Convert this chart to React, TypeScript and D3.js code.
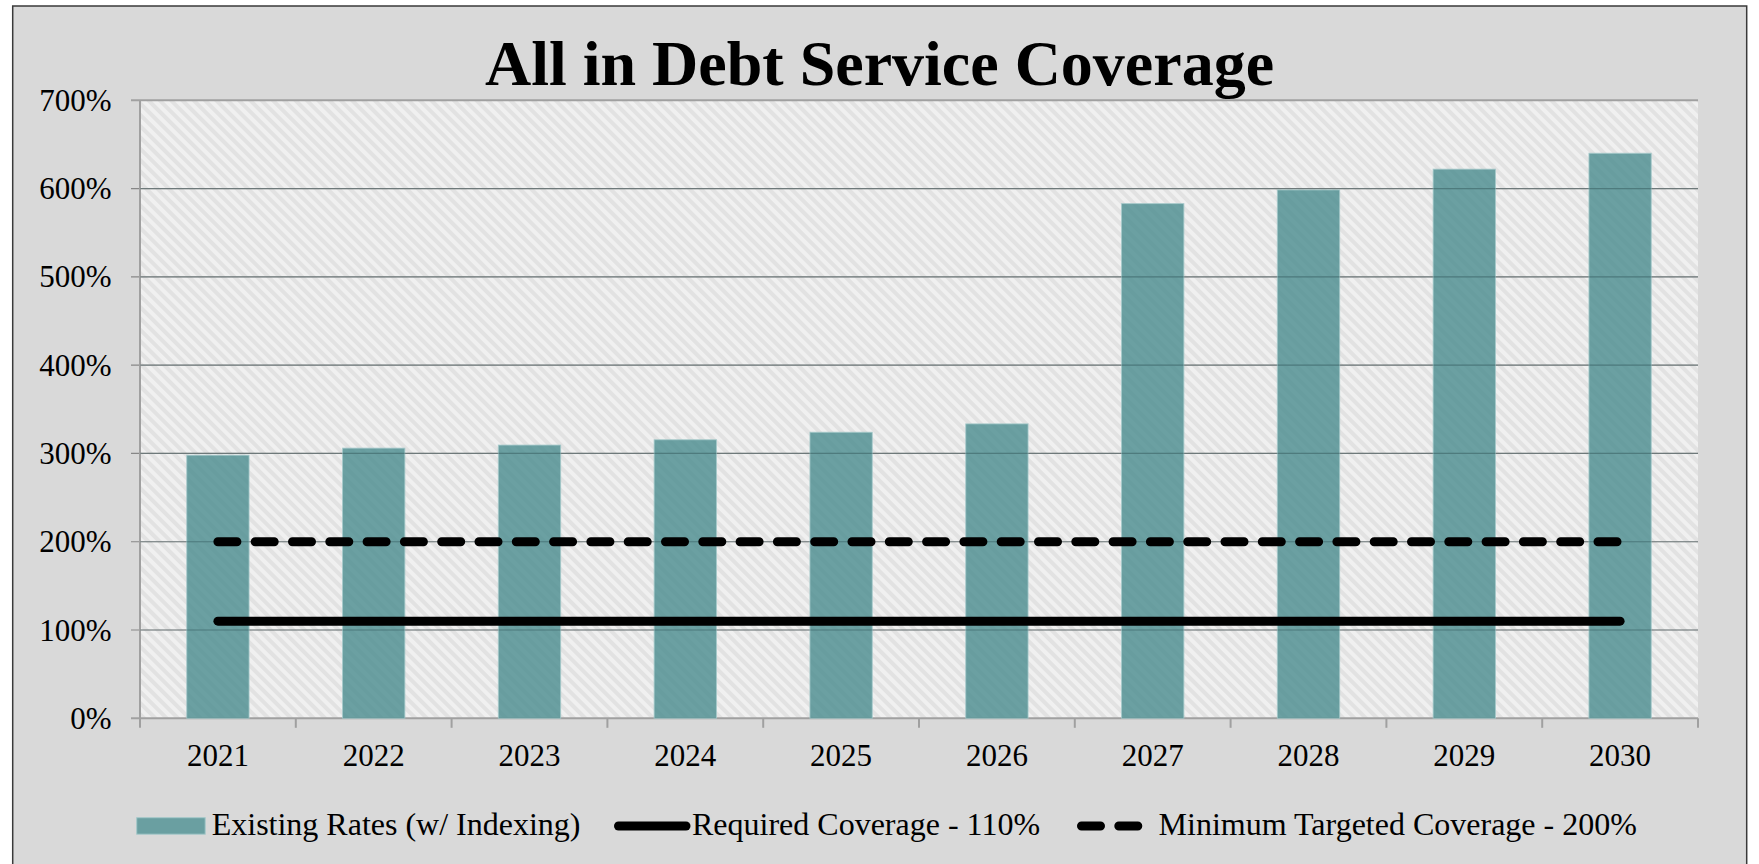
import React from "react";
import * as d3 from "d3";

const years = ["2021", "2022", "2023", "2024", "2025", "2026", "2027", "2028", "2029", "2030"];
const existingRates = [298, 306, 309.5, 315.5, 324, 333.5, 583, 598.5, 622, 640];
const requiredCoverage = [110, 110, 110, 110, 110, 110, 110, 110, 110, 110];
const targetedCoverage = [200, 200, 200, 200, 200, 200, 200, 200, 200, 200];
const yTicks = [0, 100, 200, 300, 400, 500, 600, 700];

const title = "All in Debt Service Coverage";
const legendLabels = [
  "Existing Rates (w/ Indexing)",
  "Required Coverage - 110%",
  "Minimum Targeted Coverage - 200%",
];

const W = 1759;
const H = 864;
const plot = { left: 140, right: 1698, top: 100.3, bottom: 718.3 };
const FONT = "'Liberation Serif', 'Times New Roman', serif";

export default function App() {
  const x = d3
    .scaleBand<string>()
    .domain(years)
    .range([plot.left, plot.right])
    .paddingInner(0.6)
    .paddingOuter(0.3);
  const xOuter = d3.scaleBand<string>().domain(years).range([plot.left, plot.right]);
  const y = d3.scaleLinear().domain([0, 700]).range([plot.bottom, plot.top]);
  const cx = (i: number) => (xOuter(years[i]) as number) + xOuter.bandwidth() / 2;

  const line = d3
    .line<number>()
    .x((_, i) => cx(i))
    .y((d) => y(d));

  const boundaries = d3.range(years.length + 1).map((i) => plot.left + i * xOuter.step());

  const dash = "19 18.3";
  const legendY = 826;

  return (
    <svg
      width={W}
      height={H}
      style={{ position: "absolute", left: 0, top: 0, background: "#ffffff" }}
      fontFamily={FONT}
    >
      <defs>
        <pattern
          id="hatch"
          patternUnits="userSpaceOnUse"
          width={8}
          height={8}
          patternTransform="rotate(-45)"
        >
          <rect width={8} height={8} fill="#f0f0f0" />
          <rect width={4} height={8} fill="#e2e2e2" />
        </pattern>
      </defs>

      {/* chart background & frame */}
      <rect x={12.7} y={6} width={1734} height={880} fill="#d9d9d9" stroke="#3a3a3a" strokeWidth={1.5} />

      {/* title */}
      <text x={879.5} y={85} textAnchor="middle" fontSize={64} fontWeight="bold" fill="#000">
        {title}
      </text>

      {/* plot area */}
      <rect
        x={plot.left}
        y={plot.top}
        width={plot.right - plot.left}
        height={plot.bottom - plot.top}
        fill="url(#hatch)"
      />

      {/* gridlines & y ticks */}
      {yTicks.map((t) => (
        <g key={t}>
          <line
            x1={131}
            x2={plot.right}
            y1={y(t)}
            y2={y(t)}
            stroke={t === 700 || t === 0 ? "#a0a0a0" : "#878787"}
            strokeWidth={t === 700 || t === 0 ? 2 : 1.2}
          />
          <text x={111.5} y={y(t)} dy="0.34em" textAnchor="end" fontSize={31} fill="#000">
            {t}%
          </text>
        </g>
      ))}

      {/* y axis line */}
      <line x1={plot.left} x2={plot.left} y1={plot.top} y2={plot.bottom} stroke="#a0a0a0" strokeWidth={2} />

      {/* x ticks */}
      {boundaries.map((b, i) => (
        <line key={i} x1={b} x2={b} y1={plot.bottom} y2={plot.bottom + 9.5} stroke="#a0a0a0" strokeWidth={2} />
      ))}

      {/* bars */}
      {existingRates.map((v, i) => (
        <rect
          key={years[i]}
          x={x(years[i])}
          y={y(v)}
          width={x.bandwidth()}
          height={y(0) - y(v)}
          fill="#4a8c8f"
          fillOpacity={0.8}
          stroke="#a5c9ca"
          strokeWidth={1}
          strokeOpacity={0.8}
        />
      ))}

      {/* redraw gridlines lightly over bars */}
      {yTicks
        .filter((t) => t !== 0 && t !== 700)
        .map((t) => (
          <line
            key={"o" + t}
            x1={plot.left}
            x2={plot.right}
            y1={y(t)}
            y2={y(t)}
            stroke="#3e5f60"
            strokeOpacity={0.35}
            strokeWidth={1.2}
          />
        ))}

      {/* coverage lines */}
      <path d={line(requiredCoverage) || ""} fill="none" stroke="#000" strokeWidth={9} strokeLinecap="round" />
      <path
        d={line(targetedCoverage) || ""}
        fill="none"
        stroke="#000"
        strokeWidth={9}
        strokeLinecap="round"
        strokeDasharray={dash}
      />

      {/* x labels */}
      {years.map((yr, i) => (
        <text key={yr} x={cx(i)} y={765.5} textAnchor="middle" fontSize={31} fill="#000">
          {yr}
        </text>
      ))}

      {/* legend */}
      <rect x={136.7} y={817.7} width={68.5} height={16.5} fill="#6a9fa1" stroke="#a5c9ca" strokeWidth={1} />
      <text x={211.7} y={835} fontSize={32} fill="#000">
        {legendLabels[0]}
      </text>
      <line x1={618.5} x2={686} y1={legendY} y2={legendY} stroke="#000" strokeWidth={9} strokeLinecap="round" />
      <text x={692} y={835} fontSize={32} fill="#000">
        {legendLabels[1]}
      </text>
      <line
        x1={1081.5}
        x2={1138.5}
        y1={legendY}
        y2={legendY}
        stroke="#000"
        strokeWidth={9}
        strokeLinecap="round"
        strokeDasharray={dash}
      />
      <text x={1158.6} y={835} fontSize={32} fill="#000">
        {legendLabels[2]}
      </text>
    </svg>
  );
}
